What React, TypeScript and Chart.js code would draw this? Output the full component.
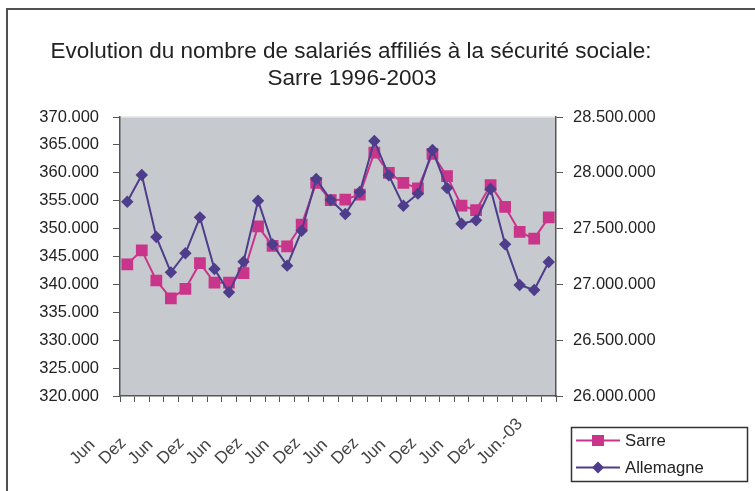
import React, { useEffect, useRef } from 'react';
import { Chart, registerables } from 'chart.js';

Chart.register(...registerables);

const titleLines = [
  'Evolution du nombre de salariés affiliés à la sécurité sociale:',
  'Sarre 1996-2003',
];

const quarters = [
  'Jun.-96', 'Sep.-96', 'Dez.-96',
  'Mär.-97', 'Jun.-97', 'Sep.-97', 'Dez.-97',
  'Mär.-98', 'Jun.-98', 'Sep.-98', 'Dez.-98',
  'Mär.-99', 'Jun.-99', 'Sep.-99', 'Dez.-99',
  'Mär.-00', 'Jun.-00', 'Sep.-00', 'Dez.-00',
  'Mär.-01', 'Jun.-01', 'Sep.-01', 'Dez.-01',
  'Mär.-02', 'Jun.-02', 'Sep.-02', 'Dez.-02',
  'Mär.-03', 'Jun.-03', 'Sep.-03',
];

const tickLabels = [
  'Jun', '', 'Dez', '', 'Jun', '', 'Dez', '', 'Jun', '', 'Dez', '', 'Jun', '', 'Dez', '',
  'Jun', '', 'Dez', '', 'Jun', '', 'Dez', '', 'Jun', '', 'Dez', '', 'Jun.-03', '',
];

const sarre = [
  343600, 346100, 340700, 337500, 339200, 343800, 340300, 340300, 342000, 350400,
  346900, 346800, 350700, 358200, 355100, 355200, 356100, 363600, 360000, 358200,
  357200, 363400, 359400, 354100, 353300, 357800, 353900, 349400, 348200, 352000,
];

const allemagne = [
  27741000, 27980000, 27425000, 27108000, 27279000, 27601000, 27138000, 26929000, 27204000, 27750000,
  27359000, 27168000, 27481000, 27944000, 27756000, 27631000, 27828000, 28285000, 27977000, 27705000,
  27813000, 28204000, 27864000, 27544000, 27574000, 27855000, 27359000, 26995000, 26950000, 27201000,
];

const seriesNames = ['Sarre', 'Allemagne'];

const leftMin = 320000;
const leftMax = 370000;
const leftStep = 5000;
const rightMin = 26000000;
const rightMax = 28500000;
const rightStep = 500000;

const FONT = '"Liberation Sans", Arial, Helvetica, sans-serif';
const TEXT = '#222222';
const AXIS = '#555555';
const PLOT_BG = '#C6C9CE';
const SARRE_COLOR = '#C9358A';
const ALL_COLOR = '#4D3D8B';

const fmt = (v: number | string) =>
  String(Math.round(Number(v))).replace(/\B(?=(\d{3})+(?!\d))/g, '.');

const decor = {
  id: 'decor',
  beforeDraw(chart: any) {
    const { ctx, chartArea: a } = chart;
    ctx.save();
    ctx.fillStyle = '#ffffff';
    ctx.fillRect(0, 0, chart.width, chart.height);
    ctx.fillStyle = PLOT_BG;
    ctx.fillRect(a.left, a.top, a.right - a.left, a.bottom - a.top);
    ctx.strokeStyle = '#e2e3e5';
    ctx.lineWidth = 1.5;
    ctx.beginPath();
    ctx.moveTo(a.left, a.top);
    ctx.lineTo(a.right, a.top);
    ctx.stroke();
    // outer frame
    ctx.strokeStyle = '#505050';
    ctx.lineWidth = 2;
    ctx.beginPath();
    ctx.moveTo(7, chart.height);
    ctx.lineTo(7, 9);
    ctx.lineTo(chart.width, 9);
    ctx.stroke();
    ctx.restore();
  },
  afterDraw(chart: any) {
    const { ctx } = chart;
    ctx.save();
    // title
    ctx.fillStyle = TEXT;
    ctx.font = `22.5px ${FONT}`;
    ctx.textAlign = 'center';
    ctx.textBaseline = 'middle';
    ctx.fillText(titleLines[0], 351, 52);
    ctx.fillText(titleLines[1], 352, 79);

    // x tick labels
    const xs = chart.scales.x;
    ctx.font = `17px ${FONT}`;
    ctx.fillStyle = '#444444';
    ctx.textAlign = 'left';
    ctx.textBaseline = 'alphabetic';
    tickLabels.forEach((t, i) => {
      if (!t) return;
      const px = xs.getPixelForValue(i);
      ctx.save();
      ctx.translate(px - 51, 465);
      ctx.rotate(-Math.PI / 4);
      ctx.fillText(t, 0, 0);
      ctx.restore();
    });

    // legend
    const bx = 571.5, by = 427.5, bw = 176, bh = 54;
    ctx.strokeStyle = '#333333';
    ctx.lineWidth = 1.5;
    ctx.strokeRect(bx, by, bw, bh);
    const rows = [
      { y: 440.5, color: SARRE_COLOR, shape: 'rect' },
      { y: 467.5, color: ALL_COLOR, shape: 'diamond' },
    ];
    rows.forEach((r, i) => {
      ctx.strokeStyle = r.color;
      ctx.lineWidth = 2;
      ctx.beginPath();
      ctx.moveTo(576, r.y);
      ctx.lineTo(620, r.y);
      ctx.stroke();
      ctx.fillStyle = r.color;
      if (r.shape === 'rect') {
        ctx.fillRect(598 - 6, r.y - 5.5, 12, 11);
      } else {
        ctx.beginPath();
        ctx.moveTo(598, r.y - 6);
        ctx.lineTo(604, r.y);
        ctx.lineTo(598, r.y + 6);
        ctx.lineTo(592, r.y);
        ctx.closePath();
        ctx.fill();
      }
      ctx.fillStyle = TEXT;
      ctx.font = `16.7px ${FONT}`;
      ctx.textAlign = 'left';
      ctx.textBaseline = 'middle';
      ctx.fillText(seriesNames[i], 625, r.y + 1);
    });
    ctx.restore();
  },
};

export default function App() {
  const ref = useRef<HTMLCanvasElement | null>(null);

  useEffect(() => {
    if (!ref.current) return;
    const chart = new Chart(ref.current, {
      type: 'line',
      data: {
        labels: quarters,
        datasets: [
          {
            label: seriesNames[0],
            data: sarre,
            yAxisID: 'y',
            borderColor: SARRE_COLOR,
            backgroundColor: SARRE_COLOR,
            borderWidth: 2,
            pointStyle: 'rect',
            pointRadius: 8.3,
            pointBorderWidth: 0,
            pointHoverRadius: 8.3,
            tension: 0,
            order: 1,
          },
          {
            label: seriesNames[1],
            data: allemagne,
            yAxisID: 'y1',
            borderColor: ALL_COLOR,
            backgroundColor: ALL_COLOR,
            borderWidth: 2,
            pointStyle: 'rectRot',
            pointRadius: 6.2,
            pointBorderWidth: 0,
            pointHoverRadius: 6.2,
            tension: 0,
            order: 0,
          },
        ],
      },
      options: {
        responsive: false,
        animation: false,
        events: [],
        layout: { padding: { top: 117, left: 0, right: 0, bottom: 0 } },
        plugins: {
          legend: { display: false },
          title: { display: false },
          tooltip: { enabled: false },
        },
        scales: {
          x: {
            type: 'category',
            offset: true,
            grid: {
              display: true,
              drawOnChartArea: false,
              offset: true,
              tickLength: 6,
              color: AXIS,
              lineWidth: 1,
            },
            border: { display: true, color: AXIS, width: 1.5 },
            ticks: { display: false, autoSkip: false },
            afterFit: (s: any) => {
              s.height = 95;
            },
          },
          y: {
            position: 'left',
            min: leftMin,
            max: leftMax,
            ticks: {
              stepSize: leftStep,
              callback: (v: any) => fmt(v),
              font: { family: FONT, size: 16.5 },
              color: TEXT,
              padding: 14,
            },
            grid: { drawOnChartArea: false, tickLength: 7, color: AXIS, lineWidth: 1 },
            border: { display: true, color: AXIS, width: 1.5 },
            afterFit: (s: any) => {
              s.width = 120;
            },
          },
          y1: {
            position: 'right',
            min: rightMin,
            max: rightMax,
            ticks: {
              stepSize: rightStep,
              callback: (v: any) => fmt(v),
              font: { family: FONT, size: 16.5 },
              color: TEXT,
              padding: 10,
            },
            grid: { drawOnChartArea: false, tickLength: 7, color: AXIS, lineWidth: 1 },
            border: { display: true, color: AXIS, width: 1.5 },
            afterFit: (s: any) => {
              s.width = 199;
            },
          },
        },
      },
      plugins: [decor],
    });
    return () => chart.destroy();
  }, []);

  return (
    <div style={{ position: 'absolute', left: 0, top: 0, width: 755, height: 491 }}>
      <canvas ref={ref} width={755} height={491} style={{ display: 'block' }} />
    </div>
  );
}
